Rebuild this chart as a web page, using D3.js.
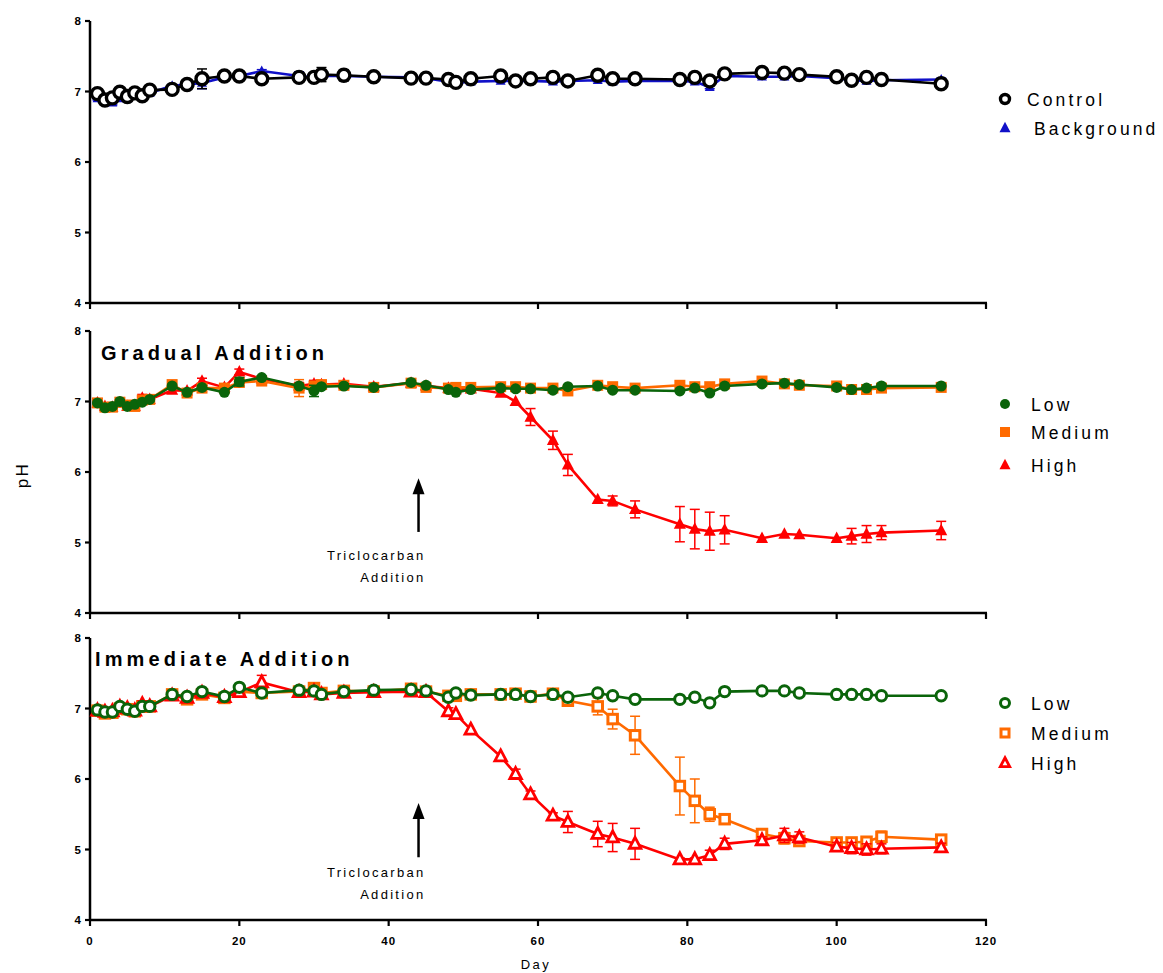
<!DOCTYPE html>
<html><head><meta charset="utf-8">
<script src="https://cdn.jsdelivr.net/npm/d3@7"></script>
<style>
body{margin:0;background:#fff;}
text{font-family:"Liberation Sans",Arial,sans-serif;}
</style></head>
<body><svg id="c" width="1163" height="973"></svg>
<script>
const days = [1,2,3,4,5,6,7,8,11,13,15,18,20,23,28,30,31,34,38,43,45,48,49,51,55,57,59,62,64,68,70,73,79,81,83,85,90,93,95,100,102,104,106,114];

// Top panel
const controlPH = [6.97,6.88,6.91,6.99,6.93,6.98,6.94,7.02, 7.03,7.1,7.18,7.22,7.22,7.18, 7.2,7.2,7.24,7.23,7.21, 7.19,7.19,7.17,7.13,7.18, 7.22,7.15,7.18,7.2,7.15, 7.23,7.18,7.18, 7.17,7.2,7.15,7.25, 7.27,7.26,7.24, 7.21,7.16,7.2,7.17, 7.11];
const controlErr = [0.02,0.02,0.02,0.03,0.02,0.06,0.05,0.02, 0.02,0.02,0.14,0.02,0.02,0.02, 0.02,0.03,0.1,0.08,0.02, 0.02,0.02,0.02,0.02,0.02, 0.02,0.02,0.02,0.02,0.02, 0.02,0.02,0.02, 0.02,0.02,0.02,0.02, 0.02,0.02,0.02, 0.02,0.02,0.02,0.02, 0.02];
const backgroundPH = [6.9,6.86,6.84,6.9,6.9,6.95,6.95,6.98, 7.08,7.1,7.12,7.2,7.22,7.29, 7.22,7.2,7.22,7.22,7.21, 7.2,7.19,7.14,7.12,7.14, 7.15,7.15,7.15,7.14,7.15, 7.16,7.14,7.15, 7.15,7.14,7.06,7.22, 7.21,7.21,7.22, 7.19,7.16,7.15,7.16, 7.17];
const backgroundErr = [0.02,0.02,0.03,0.02,0.02,0.02,0.04,0.02, 0.02,0.02,0.08,0.02,0.02,0.02, 0.06,0.02,0.02,0.02,0.02, 0.02,0.02,0.02,0.02,0.02, 0.02,0.02,0.02,0.02,0.02, 0.02,0.02,0.02, 0.02,0.02,0.02,0.02, 0.02,0.02,0.02, 0.02,0.02,0.02,0.02, 0.02];

// Gradual addition
const gradLow = [6.98,6.91,6.93,7.0,6.93,6.96,6.99,7.03, 7.22,7.13,7.2,7.13,7.28,7.34, 7.22,7.15,7.21,7.22,7.2, 7.27,7.23,7.17,7.13,7.17, 7.19,7.18,7.18,7.16,7.21, 7.22,7.16,7.16, 7.15,7.19,7.12,7.22, 7.25,7.26,7.24, 7.2,7.17,7.19,7.22, 7.22];
const gradLowErr = [0,0,0,0,0,0,0,0, 0,0,0,0,0.06,0.02, 0,0.08,0,0.03,0, 0,0,0,0,0, 0,0,0,0,0, 0,0,0, 0,0,0,0, 0,0,0, 0,0,0,0, 0];
const gradMed = [6.98,6.92,6.92,6.99,6.95,6.93,7.02,7.03, 7.24,7.12,7.19,7.19,7.27,7.29, 7.19,7.22,7.24,7.23,7.2, 7.26,7.2,7.19,7.2,7.2, 7.21,7.21,7.19,7.19,7.15, 7.23,7.21,7.19, 7.23,7.21,7.21,7.25, 7.29,7.25,7.23, 7.22,7.17,7.17,7.19, 7.2];
const gradMedErr = [0,0,0,0,0,0,0,0, 0,0,0,0,0,0.02, 0.12,0.05,0.03,0,0, 0,0,0,0,0, 0,0,0,0,0, 0,0,0, 0,0,0,0, 0,0,0, 0,0,0,0, 0];
const gradHigh = [6.98,6.93,6.92,6.98,6.93,6.93,7.05,7.03, 7.16,7.15,7.29,7.2,7.42,7.32, 7.22,7.25,7.24,7.25,7.21, 7.26,7.22,7.19,7.17,7.18, 7.12,7.0,6.78,6.45,6.1, 5.61,5.59,5.47, 5.26,5.19,5.16,5.18, 5.06,5.12,5.11, 5.06,5.09,5.12,5.14, 5.17];
const gradHighErr = [0,0,0,0,0,0,0.05,0, 0,0,0.04,0,0.04,0, 0.05,0.05,0,0.04,0, 0,0,0,0,0, 0,0,0.12,0.13,0.15, 0,0.07,0.12, 0.25,0.28,0.27,0.2, 0,0,0, 0,0.11,0.12,0.1, 0.13];

// Immediate addition
const immLow = [6.98,6.95,6.95,7.03,6.99,6.96,7.03,7.03, 7.2,7.17,7.24,7.17,7.3,7.22, 7.26,7.25,7.2,7.24,7.26, 7.27,7.25,7.16,7.22,7.19, 7.2,7.2,7.17,7.2,7.16, 7.22,7.18,7.13, 7.13,7.16,7.08,7.24, 7.25,7.25,7.22, 7.2,7.2,7.2,7.18, 7.18];
const immLowErr = [0,0,0,0,0,0,0,0, 0,0,0,0,0,0, 0,0,0,0.03,0, 0,0,0,0,0, 0,0,0,0,0, 0,0,0, 0,0,0,0, 0,0,0, 0,0,0,0, 0];
const immMed = [6.97,6.93,6.94,7.0,6.99,6.96,7.03,7.03, 7.2,7.13,7.2,7.15,7.24,7.22, 7.24,7.29,7.22,7.25,7.24, 7.28,7.24,7.18,7.18,7.2, 7.2,7.21,7.17,7.21,7.11, 7.03,6.85,6.62, 5.9,5.69,5.5,5.43, 5.22,5.16,5.12, 5.1,5.1,5.11,5.18, 5.14];
const immMedErr = [0,0,0,0,0,0,0,0, 0,0,0,0,0,0, 0,0,0,0,0, 0,0,0,0,0, 0,0,0,0,0, 0.12,0.14,0.27, 0.41,0.31,0.1,0.04, 0.05,0.08,0.06, 0.06,0.06,0.06,0.08, 0.04];
const immHigh = [6.97,6.95,6.96,7.02,7.0,6.97,7.06,7.03, 7.18,7.15,7.22,7.16,7.23,7.37, 7.23,7.24,7.2,7.22,7.23, 7.24,7.23,6.96,6.92,6.7, 6.32,6.07,5.78,5.48,5.39, 5.22,5.17,5.08, 4.86,4.86,4.92,5.08, 5.13,5.2,5.17, 5.04,5.02,5.0,5.01, 5.03];
const immHighErr = [0,0,0,0,0,0,0.05,0, 0,0,0,0,0,0.1, 0,0,0,0,0, 0,0,0.05,0,0, 0,0.07,0.05,0.04,0.15, 0.18,0.2,0.22, 0.02,0.02,0.07,0.08, 0.05,0.1,0.08, 0.06,0.08,0.08,0.07, 0.06];

const yTicks = [4,5,6,7,8];
const xTicks = [0,20,40,60,80,100,120];
const annotation = ["Triclocarban", "Addition"];

const svg = d3.select("#c");
const x = d3.scaleLinear().domain([0,120]).range([90,986]);

const C = {black:"#000000", blue:"#1010c8", green:"#0a640a", orange:"#ff6a00", red:"#ff0000"};

const panels = [
  {top:21, bottom:303, labels:false, series:[
    {name:"Background", vals:backgroundPH, err:backgroundErr, color:C.blue, shape:"tri", fill:true, size:9},
    {name:"Control", vals:controlPH, err:controlErr, color:C.black, shape:"circ", fill:false, size:6, sw:3.4}
  ], legendY:[99,128], legendOrder:[1,0]},
  {top:331, bottom:613, labels:false, title:"Gradual Addition", titleX:101, titleY:360, series:[
    {name:"High", vals:gradHigh, err:gradHighErr, color:C.red, shape:"tri", fill:true, size:11},
    {name:"Medium", vals:gradMed, err:gradMedErr, color:C.orange, shape:"sq", fill:true, size:11},
    {name:"Low", vals:gradLow, err:gradLowErr, color:C.green, shape:"circ", fill:true, size:5.5}
  ], legendY:[404,432,465], legendOrder:[2,1,0], arrow:{head:5.91, tail:5.15, t1:28, t2:50}},
  {top:638, bottom:920, labels:true, title:"Immediate Addition", titleX:95, titleY:666, series:[
    {name:"Medium", vals:immMed, err:immMedErr, color:C.orange, shape:"sq", fill:false, size:11.5, sw:3},
    {name:"High", vals:immHigh, err:immHighErr, color:C.red, shape:"tri", fill:false, size:12, sw:2.8},
    {name:"Low", vals:immLow, err:immLowErr, color:C.green, shape:"circ", fill:false, size:5.2, sw:3}
  ], legendY:[703,733,763], legendOrder:[2,0,1], arrow:{head:5.66, tail:4.89, t1:20, t2:42}}
];

function drawMarker(g, shape, cx, cy, s, color, fill, swIn){
  const sw = fill ? 0 : (swIn || 2.6);
  if(shape==="circ"){
    g.append("circle").attr("cx",cx).attr("cy",cy).attr("r",s)
      .attr("fill",fill?color:"#fff").attr("stroke",color).attr("stroke-width",sw);
  } else if(shape==="sq"){
    const h = fill ? s/2 : s/2 - 1;
    g.append("rect").attr("x",cx-h).attr("y",cy-h).attr("width",2*h).attr("height",2*h)
      .attr("fill",fill?color:"#fff").attr("stroke",color).attr("stroke-width",sw);
  } else {
    const h = fill ? s : s - 1.5;
    const p = [[cx, cy-h*0.62],[cx+h*0.55, cy+h*0.42],[cx-h*0.55, cy+h*0.42]];
    g.append("path").attr("d","M"+p.map(q=>q.join(",")).join("L")+"Z")
      .attr("fill",fill?color:"#fff").attr("stroke",color).attr("stroke-width",sw).attr("stroke-linejoin","miter");
  }
}

panels.forEach((P,pi)=>{
  const y = d3.scaleLinear().domain([4,8]).range([P.bottom,P.top]);
  const g = svg.append("g");
  // axes
  g.append("line").attr("x1",x(0)).attr("x2",x(0)).attr("y1",P.top).attr("y2",P.bottom+1).attr("stroke","#000").attr("stroke-width",2.5);
  g.append("line").attr("x1",x(0)-1).attr("x2",x(120)+1).attr("y1",P.bottom).attr("y2",P.bottom).attr("stroke","#000").attr("stroke-width",2.5);
  yTicks.forEach(t=>{
    g.append("line").attr("x1",x(0)-5).attr("x2",x(0)).attr("y1",y(t)).attr("y2",y(t)).attr("stroke","#000").attr("stroke-width",2.2);
    g.append("text").attr("x",x(0)-9).attr("y",y(t)+4).attr("text-anchor","end")
      .style("font-family","'Liberation Sans Narrow','Liberation Sans',Arial").style("font-weight","bold").style("font-size","11.5px").text(t);
  });
  xTicks.forEach(t=>{
    g.append("line").attr("x1",x(t)).attr("x2",x(t)).attr("y1",P.bottom).attr("y2",P.bottom+6).attr("stroke","#000").attr("stroke-width",2.2);
    if(P.labels){
      g.append("text").attr("x",x(t)).attr("y",P.bottom+25).attr("text-anchor","middle")
        .style("font-family","'Liberation Sans Narrow','Liberation Sans',Arial").style("font-weight","bold").style("font-size","11.5px").style("letter-spacing","1px").text(t);
    }
  });
  if(P.title){
    g.append("text").attr("x",P.titleX).attr("y",P.titleY).style("font-weight","bold").style("font-size","20px").style("letter-spacing","4.1px").text(P.title);
  }
  // series
  P.series.forEach(S=>{
    const pts = days.map((d,i)=>({d, v:S.vals[i], e:S.err[i]}));
    const line = d3.line().x(p=>x(p.d)).y(p=>y(p.v));
    g.append("path").datum(pts).attr("d",line).attr("fill","none").attr("stroke",S.color).attr("stroke-width",2.6);
    pts.forEach(p=>{
      if(p.e>0.015){
        const y1=y(p.v+p.e), y2=y(p.v-p.e), cx=x(p.d);
        g.append("line").attr("x1",cx).attr("x2",cx).attr("y1",y1).attr("y2",y2).attr("stroke",S.color).attr("stroke-width",1.5);
        [y1,y2].forEach(yy=>g.append("line").attr("x1",cx-5).attr("x2",cx+5).attr("y1",yy).attr("y2",yy).attr("stroke",S.color).attr("stroke-width",1.5));
      }
    });
    pts.forEach(p=>drawMarker(g,S.shape,x(p.d),y(p.v),S.size,S.color,S.fill,S.sw));
  });
  // legend
  P.legendOrder.forEach((si,k)=>{
    const S = P.series[si];
    const ly = P.legendY[k];
    const ms = S.shape==="circ" ? (S.fill?5:4.5) : 10;
    drawMarker(g,S.shape,1005,ly,ms,S.color,S.fill,S.sw);
    const lx = S.name==="Background" ? 1034 : (pi===0 ? 1027 : 1031);
    g.append("text").attr("x",lx).attr("y",ly+7).style("font-size","17.5px").style("letter-spacing","3.1px").text(S.name);
  });
  if(P.arrow){
    const A = P.arrow;
    const ax = x(44);
    const yHead = y(A.head), yTail = y(A.tail);
    g.append("line").attr("x1",ax).attr("x2",ax).attr("y1",yTail).attr("y2",yHead+10).attr("stroke","#000").attr("stroke-width",2.5);
    g.append("path").attr("d",`M${ax},${yHead}L${ax+6},${yHead+16}L${ax-6},${yHead+16}Z`).attr("fill","#000");
    g.append("text").attr("x",ax+7).attr("y",yTail+A.t1).attr("text-anchor","end").style("font-size","13px").style("letter-spacing","2.3px").text(annotation[0]);
    g.append("text").attr("x",ax+7).attr("y",yTail+A.t2).attr("text-anchor","end").style("font-size","13px").style("letter-spacing","2.3px").text(annotation[1]);
  }
});

// axis titles
svg.append("text").attr("transform","translate(28,475) rotate(-90)").attr("text-anchor","middle").style("font-size","17px").style("letter-spacing","2.5px").text("pH");
svg.append("text").attr("x",536).attr("y",969).attr("text-anchor","middle").style("font-size","13px").style("letter-spacing","2.5px").text("Day");
</script></body></html>
